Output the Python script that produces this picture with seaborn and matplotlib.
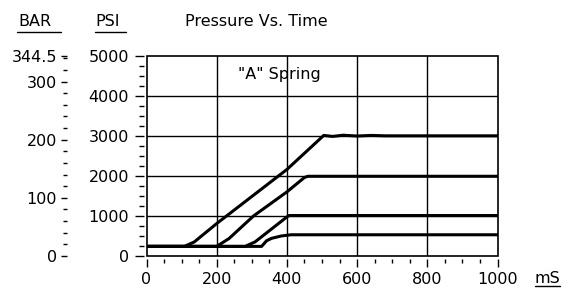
import numpy as np
import pandas as pd
import seaborn as sns
import matplotlib.pyplot as plt
from matplotlib.lines import Line2D
from matplotlib.patches import Rectangle
from matplotlib.ticker import MultipleLocator, FixedLocator

# pressure curves (time in mS, pressure in PSI)
time_a = [0, 108, 136, 200, 400, 505, 530, 560, 600, 640, 680, 1000]
psi_a = [240, 240, 350, 810, 2160, 3010, 2985, 3015, 2995, 3010, 3000, 3000]

time_b = [0, 200, 235, 305, 400, 450, 460, 1000]
psi_b = [240, 240, 435, 1000, 1600, 1960, 1990, 1990]

time_c = [0, 281, 309, 400, 406, 1000]
psi_c = [240, 240, 350, 975, 1010, 1010]

time_d = [0, 328, 342, 356, 384, 412, 1000]
psi_d = [240, 240, 380, 440, 500, 530, 530]

bar_ticks = [0, 100, 200, 300, 344.5]
bar_labels = ["0", "100", "200", "300", "344.5"]
psi_max = 5000
bar_max = 344.5

sns.set_theme(style="white")
plt.rcParams['font.family'] = ['DejaVu Sans']
plt.rcParams['font.size'] = 11.5
for k in ['text.color', 'axes.labelcolor', 'xtick.color', 'ytick.color']:
    plt.rcParams[k] = 'black'

W, H = 563, 289
fig = plt.figure(figsize=(W / 100, H / 100), dpi=100)

left, right, top, bottom = 146.5, 497.5, 55.7, 256
ax = fig.add_axes([left / W, (H - bottom) / H, (right - left) / W, (bottom - top) / H])

frames = []
for name, t, p in [("a", time_a, psi_a), ("b", time_b, psi_b),
                   ("c", time_c, psi_c), ("d", time_d, psi_d)]:
    frames.append(pd.DataFrame({"ms": t, "psi": p, "curve": name}))
df = pd.concat(frames)

sns.lineplot(data=df, x="ms", y="psi", units="curve", estimator=None,
             color="black", lw=2.2, ax=ax, legend=False)

ax.set_xlim(0, 1000)
ax.set_ylim(0, psi_max)
ax.set_xlabel("")
ax.set_ylabel("")

# grid
for v in [200, 400, 600, 800]:
    ax.axvline(v, color="black", lw=1.0, zorder=1)
for v in [1000, 2000, 3000, 4000]:
    ax.axhline(v, color="black", lw=1.0, zorder=1)

# box frame, with tick spines pushed out a little
ax.add_patch(Rectangle((0, 0), 1, 1, transform=ax.transAxes, fill=False,
                       lw=1.2, ec="black", clip_on=False, zorder=5))
for s in ["top", "right"]:
    ax.spines[s].set_visible(False)
ax.spines["left"].set_position(("outward", 1.5))
ax.spines["bottom"].set_position(("outward", 1.8))
ax.spines["left"].set_linewidth(0)
ax.spines["bottom"].set_linewidth(0)

ax.xaxis.set_major_locator(MultipleLocator(200))
ax.xaxis.set_minor_locator(MultipleLocator(50))
ax.yaxis.set_major_locator(MultipleLocator(1000))
ax.yaxis.set_minor_locator(MultipleLocator(250))
ax.tick_params(axis="x", which="major", direction="out", length=5.4, width=1.0,
               color="black", labelcolor="black", bottom=True, pad=4.0, labelsize=11.5)
ax.tick_params(axis="x", which="minor", direction="out", length=3, width=1.0,
               color="black", bottom=True)
ax.tick_params(axis="y", which="major", direction="out", length=6.5, width=1.0,
               color="black", labelcolor="black", left=True, pad=4.5, labelsize=11.5)
ax.tick_params(axis="y", which="minor", direction="out", length=3.6, width=1.0,
               color="black", left=True)

# BAR scale on the far left
axb = fig.add_axes([67 / W, (H - bottom) / H, 0.001, (bottom - top) / H])
axb.set_ylim(0, bar_max)
axb.set_xticks([])
for s in axb.spines.values():
    s.set_visible(False)
axb.patch.set_visible(False)
axb.yaxis.set_major_locator(FixedLocator(bar_ticks))
axb.yaxis.set_major_formatter(plt.FixedFormatter(bar_labels))
axb.yaxis.set_minor_locator(MultipleLocator(20))
axb.tick_params(axis="y", which="major", direction="out", length=4.3, width=1.0,
                color="black", labelcolor="black", left=True, pad=3, labelsize=11.5)
axb.tick_params(axis="y", which="minor", direction="out", length=2.9, width=1.0,
                color="black", left=True)

# texts
def px(x, y):
    return x / W, (H - y) / H

fig.text(*px(185, 26), "Pressure Vs. Time", ha="left", va="baseline", color="black")
fig.text(*px(18, 26), "BAR", ha="left", va="baseline", color="black")
fig.text(*px(95, 26), "PSI", ha="left", va="baseline", color="black")
fig.text(*px(535, 283), "mS", ha="left", va="baseline", color="black")
fig.text(*px(279.5, 79), '"A" Spring', ha="center", va="baseline", color="black")

for x0, x1, y in [(17, 61, 31.5), (95, 126, 31.5), (535, 560, 286)]:
    fig.add_artist(Line2D([x0 / W, x1 / W], [(H - y) / H] * 2,
                          transform=fig.transFigure, color="black", lw=1.0))

fig.savefig("out.png", dpi=100)
